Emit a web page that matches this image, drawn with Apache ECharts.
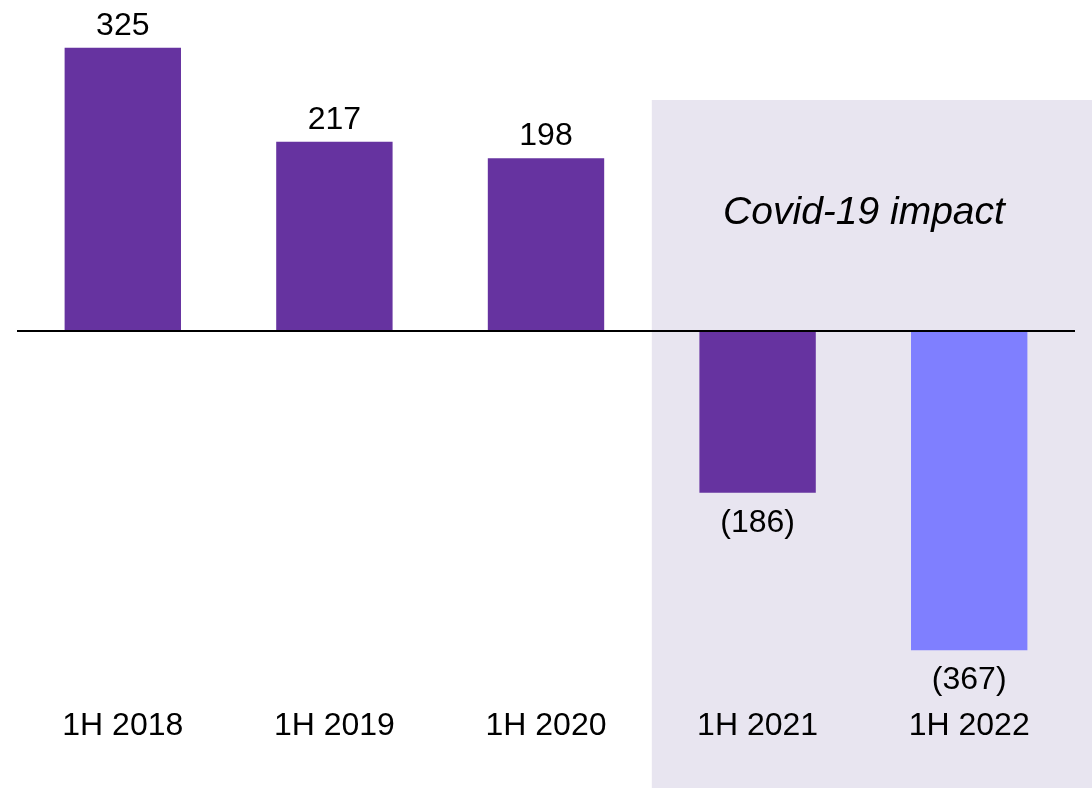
<!DOCTYPE html>
<html>
<head>
<meta charset="utf-8">
<script src="https://cdn.jsdelivr.net/npm/echarts@6/dist/echarts.min.js"></script>
<style>
  html, body { margin: 0; padding: 0; background: #ffffff; }
  #chart { width: 1092px; height: 788px; }
</style>
</head>
<body>
<div id="chart"></div>
<script>
// Half-year results per period
const categories = ['1H 2018', '1H 2019', '1H 2020', '1H 2021', '1H 2022'];
const values = [325, 217, 198, -186, -367];
const barColors = ['#6633A0', '#6633A0', '#6633A0', '#6633A0', '#7F7FFF'];
const shadedFrom = '1H 2021';
const noteText = 'Covid-19 impact';

const FONT = '"Liberation Sans", Arial, Helvetica, sans-serif';

// Negative figures are written in parentheses
function fmt(v) {
  return v < 0 ? '(' + Math.abs(v) + ')' : String(v);
}

const chart = echarts.init(document.getElementById('chart'), null, { renderer: 'canvas' });

const barData = values.map((v, i) => ({
  value: v,
  itemStyle: { color: barColors[i] },
  label: { position: v < 0 ? 'bottom' : 'top', distance: v < 0 ? 14 : 6 }
}));

chart.setOption({
  animation: false,
  backgroundColor: '#ffffff',
  grid: { left: 17, right: 17, top: 26, bottom: 109 },
  xAxis: {
    type: 'category',
    data: categories,
    axisLine: { show: false },
    axisTick: { show: false },
    axisLabel: {
      color: '#000000',
      fontSize: 32,
      fontFamily: FONT,
      margin: 31
    }
  },
  yAxis: {
    type: 'value',
    min: -400,
    max: 350,
    show: false,
    splitLine: { show: false }
  },
  series: [{
    type: 'bar',
    data: barData,
    barWidth: '55%',
    z: 3,
    label: {
      show: true,
      color: '#000000',
      fontSize: 32,
      fontFamily: FONT,
      formatter: p => fmt(p.value)
    },
    markLine: {
      silent: true,
      symbol: 'none',
      label: { show: false },
      lineStyle: { color: '#000000', width: 2, type: 'solid' },
      data: [{ yAxis: 0 }]
    }
  }]
});

// Shaded band from the boundary before the first affected period to the page edge
function placeBand() {
  const idx = categories.indexOf(shadedFrom);
  const cPrev = chart.convertToPixel({ xAxisIndex: 0 }, categories[idx - 1]);
  const cCur = chart.convertToPixel({ xAxisIndex: 0 }, categories[idx]);
  const left = (cPrev + cCur) / 2;
  const W = chart.getWidth(), H = chart.getHeight();
  const top = 100;
  chart.setOption({
    graphic: [
      {
        type: 'rect',
        z: 0,
        silent: true,
        shape: { x: left, y: top, width: W - left, height: H - top },
        style: { fill: '#E8E5F0' }
      },
      {
        type: 'text',
        z: 1,
        silent: true,
        x: 864,
        y: 213,
        style: {
          text: noteText,
          fill: '#000000',
          font: 'italic 39px ' + FONT,
          textAlign: 'center',
          textVerticalAlign: 'middle'
        }
      }
    ]
  });
}
placeBand();
</script>
</body>
</html>
